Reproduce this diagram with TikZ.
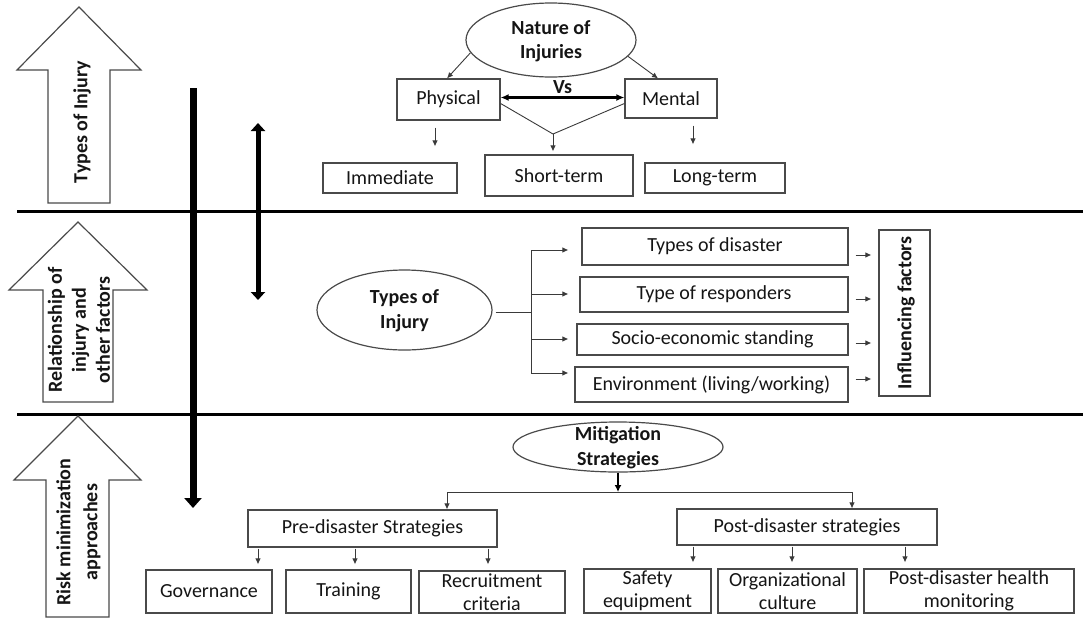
\documentclass[tikz,border=0pt]{standalone}
\usepackage{fontspec}
\setmainfont{Carlito}
\usetikzlibrary{arrows.meta,shapes.geometric}
\definecolor{boxgray}{HTML}{4A4A4A}
\definecolor{txt}{HTML}{151515}
\definecolor{arrgray}{HTML}{3A3A3A}
\begin{document}
\begin{tikzpicture}[x=1pt,y=-1pt,
  every node/.style={text=txt},
  fs/.style={font=\fontsize{20}{23}\selectfont},
  fsb/.style={font=\fontsize{20}{24}\selectfont\bfseries},
  box/.style={draw=boxgray, line width=1.2pt, inner sep=0pt, align=center, fs},
  ell/.style={draw=boxgray, line width=1.2pt, ellipse, inner sep=0pt},
  lbl/.style={align=center, fsb, inner sep=0pt},
  blockarr/.style={draw=boxgray, line width=1.2pt, line join=miter},
  arr/.style={draw=arrgray, line width=0.9pt, -{Latex[length=6pt,width=5.5pt]}},
  thin/.style={draw=arrgray, line width=0.9pt},
  sep/.style={draw=black, line width=3pt},
  rot/.style={rotate=90, align=center, fsb, inner sep=0pt}
]
\useasboundingbox (0,0) rectangle (1083,619);

% separators
\coordinate (s1a) at (17,211); \coordinate (s1b) at (1083,211);
\coordinate (s2a) at (17,414); \coordinate (s2b) at (1083,414);
\draw[sep] (s1a) -- (s1b);
\draw[sep] (s2a) -- (s2b);

% block arrows
\draw[blockarr] (48,203) -- (48,70) -- (17,70) -- (79,7) -- (141,70) -- (110,70) -- (110,203) -- cycle;
\draw[blockarr] (43,402) -- (43,290) -- (9,290) -- (78,222) -- (147,290) -- (113,290) -- (113,402) -- cycle;
\draw[blockarr] (46,617) -- (46,480) -- (14,480) -- (78,416) -- (141,480) -- (109,480) -- (109,617) -- cycle;
\node[rot] (t1) at (82,122) {Types of Injury};
\node[rot, font=\fontsize{20}{24}\selectfont\bfseries] (t2) at (79,330) {Relationship of\\injury and\\other factors};
\node[rot, font=\fontsize{20}{27}\selectfont\bfseries] (t3) at (78.5,532) {Risk minimization\\approaches};

% thick vertical arrows
\coordinate (v1s) at (193,88); \coordinate (v1e) at (193,508);
\draw[line width=7pt, -{Triangle[width=17pt,length=10pt]}] (v1s) -- (v1e);
\coordinate (v2s) at (258,123); \coordinate (v2e) at (258,300);
\draw[line width=5pt, {Triangle[width=14pt,length=8pt]}-{Triangle[width=14pt,length=8pt]}] (v2s) -- (v2e);

% ---- top section
\node[ell, minimum width=170pt, minimum height=74pt] (nat) at (551,40) {};
\node[lbl] (natT) at (551,41) {Nature of\\Injuries};
\node[box, minimum width=103pt, minimum height=41pt] (phys) at (448.5,99.5) {Physical};
\node[box, minimum width=92pt, minimum height=39pt] (ment) at (671,98.5) {Mental};
\node[box, minimum width=134pt, minimum height=30pt] (imm) at (390,178) {Immediate};
\node[box, minimum width=148pt, minimum height=41pt] (st) at (559,175.5) {Short-term};
\node[box, minimum width=140pt, minimum height=30pt] (lt) at (715,178) {Long-term};

\draw[arr] (nat.189) -- ([xshift=-1.5pt]phys.north);
\draw[arr] (nat.348) -- ([xshift=-13pt]ment.north);
\draw[line width=2.2pt, {Latex[length=8pt,width=7pt]}-{Latex[length=8pt,width=7pt]}] ([yshift=2pt]phys.east) -- node[above=2pt, fsb, inner sep=1pt] (vs) {Vs} ([yshift=2pt]phys.east -| ment.west);
\coordinate (jn) at (553,134);
\draw[thin] ([yshift=-4pt]phys.east) -- (jn);
\draw[thin] ([yshift=-5pt]ment.west) -- (jn);
\draw[arr, shorten >=3pt] (jn) -- (jn |- st.north);
\coordinate (pa) at ([xshift=-13.5pt]phys.south);
\draw[arr, shorten <=7pt, shorten >=16pt] (pa) -- (pa |- imm.north);
\coordinate (ma) at ([xshift=22pt]ment.south);
\draw[arr, shorten <=7pt, shorten >=18pt] (ma) -- (ma |- lt.north);

% ---- middle section
\node[ell, minimum width=175pt, minimum height=80pt] (toi) at (404.5,310) {};
\node[lbl, font=\fontsize{20}{25}\selectfont\bfseries] (toiT) at (404.5,311) {Types of\\Injury};
\node[box, minimum width=266pt, minimum height=37pt] (tod) at (715,246.5) {Types of disaster};
\node[box, minimum width=268pt, minimum height=35pt] (tor) at (714,294.5) {Type of responders};
\node[box, minimum width=271pt, minimum height=31pt] (ses) at (712.5,339.5) {Socio-economic standing};
\node[box, minimum width=273pt, minimum height=35pt] (env) at (711.5,384.5) {Environment (living/working)};
\node[box, minimum width=51pt, minimum height=166pt] (inf) at (904.5,313) {};
\node[rot] (infT) at (906,313) {Influencing factors};

\coordinate (br) at (531,312);
\coordinate (b1) at (531,250); \coordinate (b2) at (531,294);
\coordinate (b3) at (531,339); \coordinate (b4) at (531,373);
\draw[thin] ([xshift=3pt,yshift=-2pt]toi.east) -- (br);
\draw[thin] (b1) -- (b4);
\draw[arr, shorten >=13pt] (b1) -- (b1 -| tod.west);
\draw[arr, shorten >=11pt] (b2) -- (b2 -| tor.west);
\draw[arr, shorten >=8pt] (b3) -- (b3 -| ses.west);
\draw[arr, shorten >=6pt] (b4) -- (b4 -| env.west);

\coordinate (r1) at ([yshift=-8.5pt]tod.east);
\coordinate (r2) at ([yshift=-4.5pt]tor.east);
\coordinate (r3) at ([yshift=-3.5pt]ses.east);
\coordinate (r4) at ([yshift=5.5pt]env.east);
\draw[arr, shorten <=7pt, shorten >=7pt] (r1) -- (r1 -| inf.west);
\draw[arr, shorten <=7pt, shorten >=7pt] (r2) -- (r2 -| inf.west);
\draw[arr, shorten <=7pt, shorten >=7pt] (r3) -- (r3 -| inf.west);
\draw[arr, shorten <=7pt, shorten >=7pt] (r4) -- (r4 -| inf.west);

% ---- bottom section
\node[ell, minimum width=210pt, minimum height=50pt] (mit) at (618,447) {};
\node[lbl, font=\fontsize{20}{25}\selectfont\bfseries] (mitT) at (618,447.5) {Mitigation\\Strategies};
\node[box, minimum width=249pt, minimum height=37pt] (pre) at (372.5,528.5) {Pre-disaster Strategies};
\node[box, minimum width=260pt, minimum height=36pt] (post) at (807,527) {Post-disaster strategies};
\node[box, minimum width=126pt, minimum height=43pt] (gov) at (209,591.5) {Governance};
\node[box, minimum width=125pt, minimum height=43pt] (tra) at (348.5,591.5) {Training};
\node[box, minimum width=146pt, minimum height=42pt] (rec) at (492,592) {Recruitment\\criteria};
\node[box, minimum width=127pt, minimum height=44pt] (saf) at (647.5,591) {Safety\\equipment};
\node[box, minimum width=139pt, minimum height=44pt] (org) at (787.5,591) {Organizational\\culture};
\node[box, minimum width=210pt, minimum height=44pt] (pdh) at (969,591) {Post-disaster health\\monitoring};

\coordinate (hl) at (447,492); \coordinate (hr) at (852,492);
\draw[line width=2pt, -{Latex[length=7pt,width=7pt]}] (mit.south) -- (mit.south |- hl);
\draw[thin] (hl) -- (hr);
\draw[arr] (hl) -- (hl |- pre.north);
\draw[arr] (hr) -- (hr |- post.north);

\coordinate (p1) at ([xshift=-114.5pt]pre.south);
\coordinate (p2) at ([xshift=-17.5pt]pre.south);
\coordinate (p3) at ([xshift=115.5pt]pre.south);
\draw[arr, shorten <=1pt, shorten >=5pt] (p1) -- (p1 |- gov.north);
\draw[arr, shorten <=1pt, shorten >=5pt] (p2) -- (p2 |- tra.north);
\draw[arr, shorten <=1pt, shorten >=6pt] (p3) -- (p3 |- rec.north);
\coordinate (q1) at ([xshift=-114pt]post.south);
\coordinate (q2) at ([xshift=-15pt]post.south);
\coordinate (q3) at ([xshift=98pt]post.south);
\draw[arr, shorten <=1pt, shorten >=6pt] (q1) -- (q1 |- saf.north);
\draw[arr, shorten <=1pt, shorten >=6pt] (q2) -- (q2 |- org.north);
\draw[arr, shorten <=1pt, shorten >=6pt] (q3) -- (q3 |- pdh.north);
\end{tikzpicture}
\end{document}
